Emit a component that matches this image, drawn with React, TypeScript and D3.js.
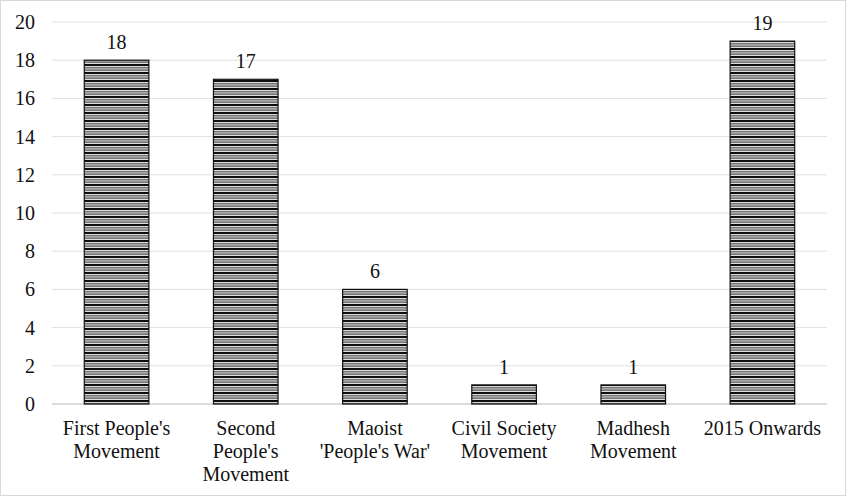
import React from "react";
import * as d3 from "d3";

const categories: string[][] = [
  ["First People's", "Movement"],
  ["Second", "People's", "Movement"],
  ["Maoist", "'People's War'"],
  ["Civil Society", "Movement"],
  ["Madhesh", "Movement"],
  ["2015 Onwards"],
];
const values: number[] = [18, 17, 6, 1, 1, 19];
const yTicks: number[] = [0, 2, 4, 6, 8, 10, 12, 14, 16, 18, 20];

const W = 847;
const H = 497;
const margin = { left: 52, right: 20, top: 22, bottom: 93 };
const textStyle: React.CSSProperties = {
  fontFamily: "'Liberation Serif', 'Times New Roman', Times, serif",
  fontSize: "20px",
};

export default function App() {
  const x = d3
    .scaleBand<number>()
    .domain(d3.range(values.length))
    .range([margin.left, W - margin.right])
    .paddingInner(0.5)
    .paddingOuter(0.25);
  const y = d3.scaleLinear().domain([0, 20]).range([H - margin.bottom, margin.top]);

  return (
    <svg
      width={W}
      height={H}
      style={{ position: "absolute", left: 0, top: 0, background: "#fff" }}
    >
      <defs>
        <pattern id="hstripes" width="8" height="8" patternUnits="userSpaceOnUse">
          <rect width="8" height="8" fill="#c0c0c0" />
          <rect y="0" width="8" height="2" fill="#0d0d0d" />
          <rect y="2" width="8" height="1" fill="#dadada" />
          <rect y="3" width="8" height="1.5" fill="#767676" />
          <rect y="4.5" width="8" height="1" fill="#b0b0b0" />
          <rect y="5.5" width="8" height="1.5" fill="#767676" />
          <rect y="7" width="8" height="1" fill="#dedede" />
        </pattern>
      </defs>
      <rect x={0.5} y={0.5} width={W - 2} height={H - 2} fill="#fff" stroke="#d9d9d9" />
      {yTicks.map((t) => (
        <g key={t}>
          <line
            x1={margin.left}
            x2={W - margin.right}
            y1={y(t)}
            y2={y(t)}
            stroke={t === 0 ? "#d0d0d0" : "#e0e0e0"}
            strokeWidth={t === 0 ? 1.5 : 1}
          />
          <text x={35} y={y(t)} dy="0.35em" textAnchor="end" style={textStyle} fill="#111">
            {t}
          </text>
        </g>
      ))}
      {values.map((v, i) => (
        <g key={i}>
          <rect
            x={x(i)!}
            y={y(v)}
            width={x.bandwidth()}
            height={y(0) - y(v)}
            fill="url(#hstripes)"
            stroke="#111"
            strokeWidth={1.2}
          />
          <text
            x={x(i)! + x.bandwidth() / 2}
            y={y(v) - 11}
            textAnchor="middle"
            style={textStyle}
            fill="#111"
          >
            {v}
          </text>
          {categories[i].map((line, j) => (
            <text
              key={j}
              x={x(i)! + x.bandwidth() / 2}
              y={435 + j * 23}
              textAnchor="middle"
              style={textStyle}
              fill="#111"
            >
              {line}
            </text>
          ))}
        </g>
      ))}
    </svg>
  );
}
